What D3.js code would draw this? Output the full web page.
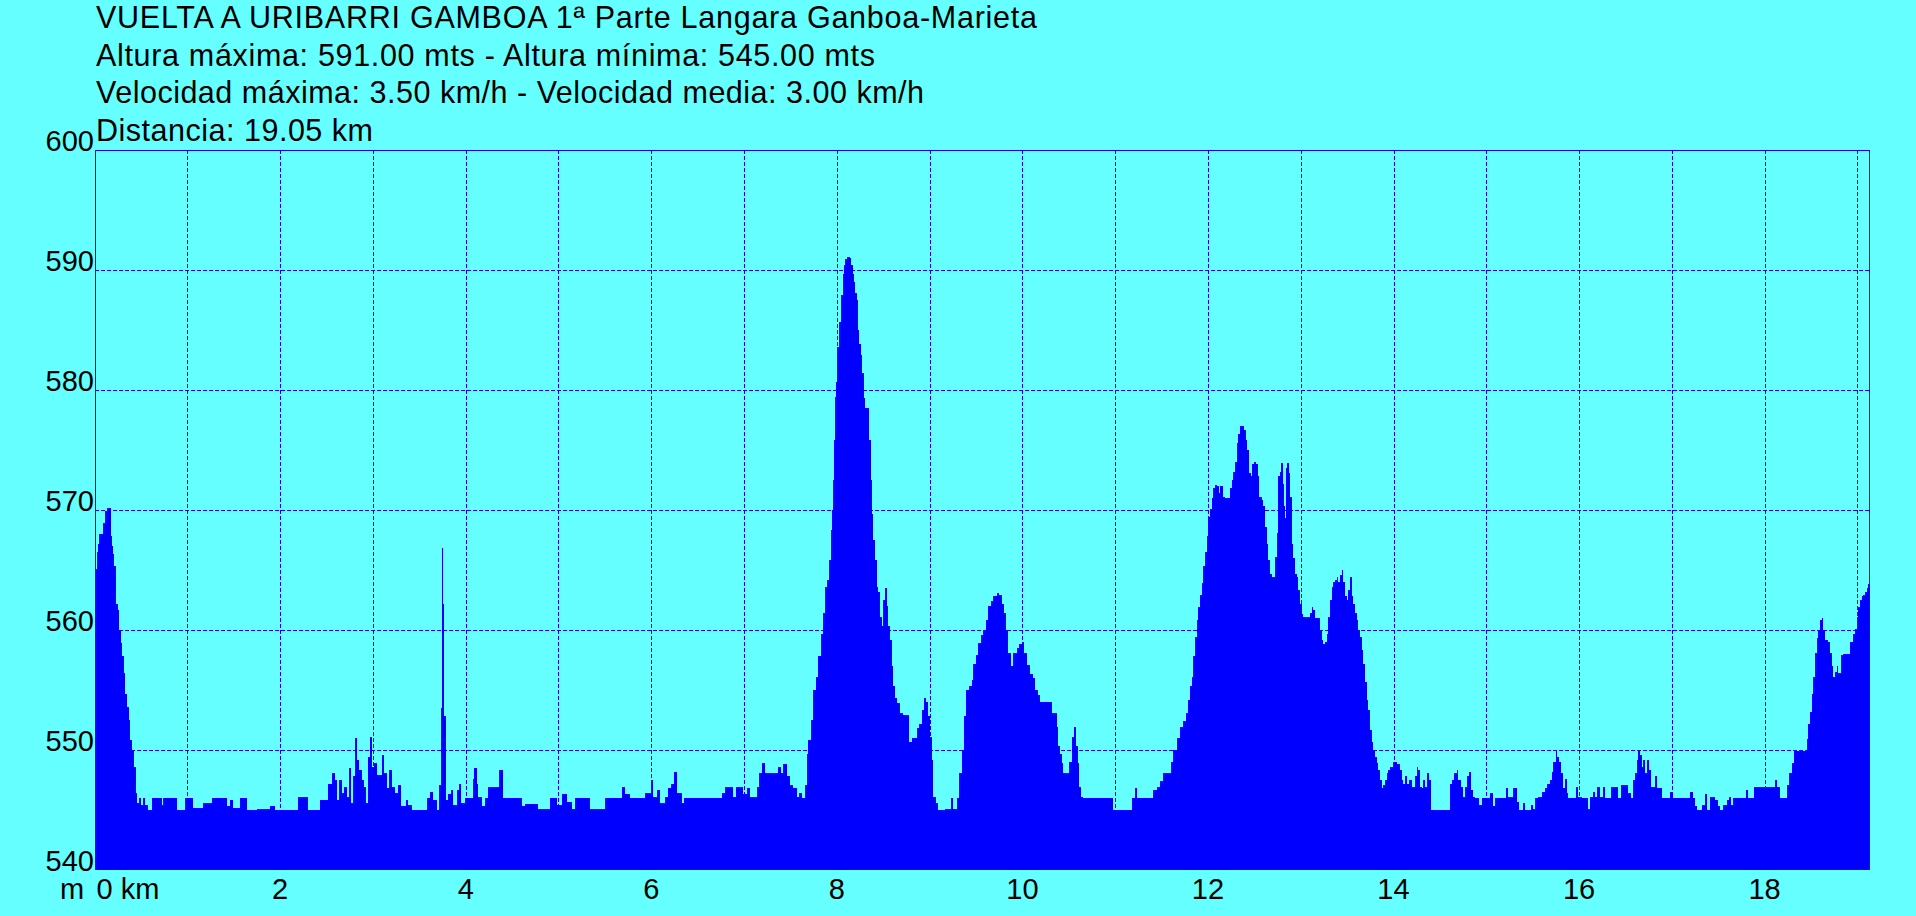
<!DOCTYPE html>
<html>
<head>
<meta charset="utf-8">
<script src="https://cdn.jsdelivr.net/npm/d3@7"></script>
<style>
html, body { margin: 0; padding: 0; background: #66ffff; overflow: hidden; }
svg { display: block; }
</style>
</head>
<body>
<svg id="chart" width="1916" height="916"></svg>
<script>
// ---------------- data ----------------
const titleLines = [
  "VUELTA A URIBARRI GAMBOA 1ª Parte Langara Ganboa-Marieta",
  "Altura máxima: 591.00 mts - Altura mínima: 545.00 mts",
  "Velocidad máxima: 3.50 km/h - Velocidad media: 3.00 km/h",
  "Distancia: 19.05 km"
];
const altitudeTicks = [540, 550, 560, 570, 580, 590, 600];
const distanceGrid = [1, 2, 3, 4, 5, 6, 7, 8, 9, 10, 11, 12, 13, 14, 15, 16, 17, 18, 19];
const distanceLabels = [2, 4, 6, 8, 10, 12, 14, 16, 18];
const firstDistanceLabel = "0 km";
const altitudeUnit = "m";

const distanceKm = [
  0, 0.023, 0.040, 0.051, 0.094, 0.112, 0.130, 0.177, 0.191, 0.202,
  0.212, 0.231, 0.249, 0.263, 0.281, 0.299, 0.314, 0.331, 0.349, 0.368,
  0.385, 0.406, 0.425, 0.443, 0.460, 0.479, 0.500, 0.522, 0.543, 0.576,
  0.622, 0.723, 0.740, 0.888, 0.974, 1.061, 1.168, 1.262, 1.424, 1.459,
  1.492, 1.567, 1.639, 1.747, 1.890, 1.944, 2.192, 2.300, 2.429, 2.519,
  2.555, 2.591, 2.609, 2.637, 2.663, 2.688, 2.717, 2.742, 2.760, 2.782,
  2.810, 2.831, 2.853, 2.879, 2.904, 2.925, 2.943, 2.968, 2.990, 3.011,
  3.040, 3.094, 3.119, 3.148, 3.176, 3.202, 3.238, 3.273, 3.299, 3.356,
  3.381, 3.418, 3.579, 3.615, 3.651, 3.687, 3.715, 3.730, 3.741, 3.748,
  3.758, 3.769, 3.784, 3.812, 3.838, 3.860, 3.903, 3.928, 3.949, 3.992,
  4.075, 4.092, 4.118, 4.136, 4.172, 4.208, 4.240, 4.359, 4.405, 4.603,
  4.639, 4.779, 4.908, 4.981, 5.035, 5.088, 5.142, 5.178, 5.340, 5.501,
  5.681, 5.717, 5.771, 5.932, 5.994, 6.022, 6.059, 6.094, 6.148, 6.183,
  6.213, 6.248, 6.274, 6.328, 6.353, 6.759, 6.795, 6.884, 6.913, 6.985,
  7.029, 7.064, 7.136, 7.164, 7.190, 7.226, 7.369, 7.395, 7.423, 7.460,
  7.495, 7.531, 7.567, 7.596, 7.621, 7.657, 7.675, 7.692, 7.718, 7.746,
  7.776, 7.800, 7.826, 7.848, 7.873, 7.897, 7.919, 7.934, 7.945, 7.955,
  7.970, 7.980, 7.991, 8.005, 8.020, 8.042, 8.063, 8.077, 8.091, 8.113,
  8.142, 8.156, 8.171, 8.185, 8.199, 8.214, 8.228, 8.242, 8.257, 8.271,
  8.293, 8.307, 8.344, 8.365, 8.379, 8.393, 8.411, 8.430, 8.447, 8.465,
  8.484, 8.501, 8.519, 8.537, 8.555, 8.573, 8.592, 8.609, 8.627, 8.652,
  8.681, 8.713, 8.781, 8.807, 8.867, 8.889, 8.915, 8.939, 8.961, 8.986,
  9.004, 9.022, 9.040, 9.069, 9.090, 9.166, 9.227, 9.249, 9.298, 9.320,
  9.346, 9.371, 9.392, 9.428, 9.453, 9.471, 9.497, 9.525, 9.550, 9.579,
  9.607, 9.632, 9.658, 9.686, 9.723, 9.751, 9.777, 9.802, 9.823, 9.848,
  9.874, 9.902, 9.939, 9.967, 9.992, 10.017, 10.046, 10.082, 10.111, 10.136,
  10.172, 10.190, 10.316, 10.370, 10.387, 10.405, 10.424, 10.438, 10.506, 10.531,
  10.556, 10.578, 10.596, 10.613, 10.628, 10.653, 10.980, 11.178, 11.214, 11.235,
  11.408, 11.448, 11.483, 11.519, 11.598, 11.620, 11.663, 11.699, 11.734, 11.763,
  11.788, 11.806, 11.825, 11.842, 11.860, 11.879, 11.896, 11.914, 11.932, 11.950,
  11.968, 11.986, 12.004, 12.022, 12.040, 12.058, 12.076, 12.100, 12.119, 12.133,
  12.159, 12.184, 12.238, 12.256, 12.273, 12.291, 12.310, 12.327, 12.345, 12.388,
  12.407, 12.424, 12.442, 12.461, 12.478, 12.500, 12.518, 12.536, 12.553, 12.580,
  12.597, 12.615, 12.633, 12.650, 12.669, 12.687, 12.723, 12.741, 12.758, 12.776,
  12.790, 12.806, 12.820, 12.830, 12.841, 12.855, 12.870, 12.884, 12.903, 12.920,
  12.938, 12.956, 12.974, 12.992, 13.010, 13.024, 13.100, 13.118, 13.135, 13.153,
  13.207, 13.226, 13.243, 13.261, 13.279, 13.297, 13.315, 13.333, 13.351, 13.369,
  13.387, 13.404, 13.423, 13.441, 13.459, 13.477, 13.495, 13.512, 13.531, 13.549,
  13.566, 13.584, 13.603, 13.620, 13.639, 13.657, 13.674, 13.693, 13.711, 13.728,
  13.746, 13.765, 13.782, 13.800, 13.819, 13.836, 13.854, 13.872, 13.890, 13.908,
  13.926, 13.944, 13.962, 13.998, 14.034, 14.070, 14.088, 14.105, 14.124, 14.142,
  14.170, 14.196, 14.231, 14.250, 14.267, 14.285, 14.304, 14.321, 14.339, 14.364,
  14.385, 14.400, 14.609, 14.633, 14.652, 14.681, 14.698, 14.724, 14.745, 14.770,
  14.789, 14.813, 14.832, 14.853, 14.878, 14.925, 14.950, 15.040, 15.075, 15.094,
  15.212, 15.237, 15.291, 15.328, 15.352, 15.392, 15.417, 15.478, 15.506, 15.525,
  15.560, 15.597, 15.632, 15.657, 15.686, 15.705, 15.722, 15.748, 15.765, 15.787,
  15.805, 15.823, 15.848, 15.866, 15.880, 15.967, 15.991, 16.028, 16.099, 16.118,
  16.147, 16.171, 16.190, 16.225, 16.254, 16.279, 16.341, 16.422, 16.448, 16.530,
  16.556, 16.584, 16.602, 16.621, 16.638, 16.657, 16.675, 16.692, 16.710, 16.729,
  16.753, 16.772, 16.818, 16.836, 16.890, 16.980, 17.009, 17.195, 17.224, 17.249,
  17.274, 17.321, 17.357, 17.382, 17.411, 17.465, 17.500, 17.519, 17.554, 17.591,
  17.612, 17.634, 17.662, 17.799, 17.824, 17.888, 18.111, 18.130, 18.165, 18.237,
  18.266, 18.291, 18.316, 18.453, 18.470, 18.489, 18.507, 18.525, 18.543, 18.561,
  18.579, 18.597, 18.615, 18.632, 18.650, 18.679, 18.704, 18.722, 18.740, 18.758,
  18.776, 18.794, 18.819, 18.848, 18.920, 18.949, 18.974, 18.992, 19.009, 19.027,
  19.046, 19.063, 19.082, 19.100, 19.117, 19.125
];
const altitudeM = [
  565.1, 566.5, 567.2, 568, 568.9, 569.9, 570.2, 567.8, 567, 566.3,
  565.3, 562.2, 561.7, 560, 558.9, 557.8, 556.4, 554.7, 553.6, 552.5,
  550.8, 550, 548.6, 546.4, 545.6, 546, 545.4, 546, 545.4, 545,
  546, 545.4, 546, 545, 546, 545.2, 545.6, 546, 545.3, 545.8,
  545.2, 546, 545, 545.1, 545.3, 545, 546.1, 545, 545.8, 547.2,
  548.1, 547.5, 545.8, 547.5, 546.4, 546.9, 546.1, 548.5, 545.6, 547.8,
  551, 549.2, 548.3, 547.5, 546.9, 545.6, 549.4, 551.1, 548.6, 548.9,
  547.9, 549.6, 548.1, 546.8, 548.3, 546.9, 546.4, 547.1, 545.3, 545.8,
  545.4, 545, 546, 546.5, 545.8, 545, 547.1, 553.5, 562.4, 566.8,
  562.2, 552.8, 545.8, 546.3, 546.7, 545.4, 546.7, 547.2, 545.6, 546,
  547.6, 548.5, 547.2, 546.1, 545.3, 546, 546.9, 548.3, 546, 545.3,
  545.5, 545.1, 546, 545.4, 546.3, 545.7, 545.1, 546, 545.1, 546,
  546.9, 546.3, 546, 546.4, 547.5, 546.1, 546.7, 545.6, 546.1, 546.8,
  547.2, 548.2, 546.4, 545.6, 546, 546.4, 546.9, 546.1, 546.9, 546.3,
  546.8, 546.1, 546.9, 548.1, 548.9, 548.1, 548.6, 548.1, 548.8, 547.8,
  547.1, 546.8, 546.1, 546.4, 546, 547.1, 549.7, 550.8, 552.5, 555,
  556.1, 557.8, 559.7, 561.4, 563.6, 564.2, 565.8, 568.3, 570, 572.5,
  575.8, 579.4, 580.7, 583.6, 585.7, 587.9, 589.7, 590.4, 590.9, 591.1,
  591, 590.4, 589.7, 589, 588.1, 587.5, 585, 583.8, 582.9, 581.4,
  579.3, 578.5, 575.8, 572.5, 569.7, 567.5, 565.8, 563.6, 563.2, 561.1,
  560.3, 562.5, 563.5, 562, 560.3, 559.2, 557, 555.3, 554.3, 553.9,
  553.1, 552.9, 550.7, 551, 551.8, 552.2, 553.3, 554.3, 554, 552.8,
  551.1, 549.2, 546.1, 545.6, 545, 545.1, 546, 545.1, 546, 548.1,
  550, 552.8, 555, 555.3, 555.8, 557.2, 557.9, 558.9, 559.6, 560,
  560.8, 562, 562.4, 562.8, 563.1, 562.9, 562.2, 561.4, 560, 558.1,
  557, 558.1, 558.5, 558.8, 559, 558.1, 557.1, 556.3, 556, 555,
  554.6, 554, 553.1, 551.9, 550.3, 549.7, 548.9, 548.1, 549, 551.1,
  551.9, 550.3, 548.9, 546.9, 546.1, 546, 545, 546, 546.8, 546,
  546.7, 546.9, 547.4, 548.1, 549, 550, 551, 551.9, 552.4, 553.1,
  554.2, 555.3, 556.1, 557.8, 559.4, 560.8, 561.9, 562.9, 563.9, 565.3,
  566.5, 567.8, 569.4, 570.1, 571, 571.8, 572.1, 572, 571.4, 572,
  571.1, 571, 571.8, 572.5, 573.2, 574, 575.6, 576.3, 577, 576.7,
  575.8, 575, 573.1, 572.8, 573.8, 574, 573.8, 572.8, 571.1, 570.8,
  570.3, 568.6, 567.2, 565.8, 564.7, 564.4, 566.1, 568.1, 572.8, 573.2,
  573.9, 572.2, 570.3, 569.3, 573.5, 573.9, 573.1, 571.1, 567.2, 566,
  564.7, 564.4, 563.3, 562.2, 561.3, 561.1, 561.4, 561.9, 561.7, 561,
  560, 559.2, 558.8, 559, 559.7, 561.1, 562.5, 563.6, 564, 564.2,
  564.4, 564, 564.6, 565, 564, 562.8, 562.5, 563.3, 564.4, 562.8,
  562.2, 561.4, 560.8, 560, 559.4, 558.3, 557.2, 555.7, 554.2, 553.3,
  551.7, 550.7, 549.9, 549.4, 548.9, 548.3, 547.5, 546.8, 547.1, 547.5,
  548.1, 548.3, 548.6, 549, 548.8, 548.3, 547.5, 547.2, 547.8, 547.2,
  547.5, 546.9, 547.8, 548.6, 548.3, 546.9, 546.8, 547.5, 546.9, 548.1,
  547.5, 545, 547.2, 547.5, 548.1, 548.3, 547.5, 546.9, 546.1, 546.9,
  547.8, 548.2, 546.7, 546.1, 546, 545.4, 546, 546.4, 545.3, 546,
  546.8, 546.1, 546.8, 545.7, 545, 545.6, 545, 545.4, 545.1, 546,
  546.1, 546.5, 546.8, 547.2, 547.5, 548.2, 549, 549.9, 549.4, 549,
  548.1, 546.8, 547.6, 546.4, 546, 546.9, 546.1, 546, 545.1, 546.1,
  546.5, 546.1, 546.9, 546.1, 546.9, 546, 546.9, 546, 547.1, 546.4,
  546, 547.5, 548.1, 549.2, 549.9, 549.6, 548.6, 549.2, 548.1, 549.2,
  548.3, 546.9, 547.8, 546.8, 546, 546.5, 546, 546.5, 546, 545.3,
  545, 545.4, 546.3, 545, 546.1, 545.8, 545.3, 545, 545.4, 545.8,
  546.1, 545.4, 546, 546.7, 546, 546.9, 547.5, 546.9, 546, 547.1,
  548.1, 548.9, 549.9, 550.9, 552.2, 553.2, 554.7, 556.1, 558.1, 559.3,
  560, 560.8, 561, 560, 559.2, 559, 558.1, 557, 556.1, 556.5,
  557, 556.4, 557.9, 558, 559, 559.7, 560.1, 561.1, 561.9, 562.5,
  562.8, 562.9, 563.2, 563.5, 563.8, 563.8
];

// ---------------- layout ----------------
const W = 1916, H = 916;
const plot = { left: 94.6, right: 1869, top: 150, bottom: 870 };
const titleX = 96;
const titleBaselines = [28, 65.5, 103, 140.5];
const titleWidths = [941, 779, 828, 277];
const FONT = "'Liberation Sans', Arial, Helvetica, sans-serif";
const BLUE = "#0000ff";

const svg = d3.select("#chart");
svg.append("rect").attr("width", W).attr("height", H).attr("fill", "#66ffff");

const x = d3.scaleLinear().domain([0, 19.125]).range([plot.left, plot.right]);
const y = d3.scaleLinear().domain([540, 600]).range([plot.bottom, plot.top]);

const profile = distanceKm.map((d, i) => ({ km: d, alt: altitudeM[i] }));

// grid
const grid = svg.append("g").attr("shape-rendering", "crispEdges");
grid.selectAll("line.h")
  .data(altitudeTicks.filter(v => v > 540 && v < 600))
  .join("line")
  .attr("x1", plot.left).attr("x2", plot.right)
  .attr("y1", d => Math.round(y(d)) + 0.5).attr("y2", d => Math.round(y(d)) + 0.5)
  .attr("stroke", BLUE).attr("stroke-width", 1).attr("stroke-dasharray", "4,2");
grid.selectAll("line.v")
  .data(distanceGrid)
  .join("line")
  .attr("x1", d => Math.round(x(d)) + 0.5).attr("x2", d => Math.round(x(d)) + 0.5)
  .attr("y1", plot.top).attr("y2", plot.bottom)
  .attr("stroke", BLUE).attr("stroke-width", 1).attr("stroke-dasharray", "4,2");

// profile area
const area = d3.area()
  .x(d => x(d.km))
  .y0(y(540))
  .y1(d => y(d.alt))
  .curve(d3.curveStepAfter);
svg.append("path")
  .datum(profile)
  .attr("d", area)
  .attr("fill", BLUE)
  .attr("shape-rendering", "crispEdges");

// frame
const frame = svg.append("g").attr("stroke", BLUE).attr("stroke-width", 1).attr("shape-rendering", "crispEdges");
frame.append("line").attr("x1", 95).attr("x2", 1870).attr("y1", 150.5).attr("y2", 150.5);
frame.append("line").attr("x1", 95.5).attr("x2", 95.5).attr("y1", 150).attr("y2", 870);
frame.append("line").attr("x1", 1869.5).attr("x2", 1869.5).attr("y1", 150).attr("y2", 870);

// y-axis labels
svg.append("g").selectAll("text")
  .data(altitudeTicks)
  .join("text")
  .attr("x", 94).attr("y", d => y(d) + 1)
  .attr("text-anchor", "end")
  .attr("font-family", FONT).attr("font-size", 29).attr("fill", "#000")
  .text(d => d);

// x-axis labels
const xl = svg.append("g").attr("font-family", FONT).attr("font-size", 29).attr("fill", "#000");
xl.append("text").attr("x", 60).attr("y", 899).text(altitudeUnit);
xl.append("text").attr("x", x(0) + 2).attr("y", 899).text(firstDistanceLabel);
xl.selectAll("text.tick")
  .data(distanceLabels)
  .join("text")
  .attr("class", "tick")
  .attr("x", d => x(d)).attr("y", 899)
  .attr("text-anchor", "middle")
  .text(d => d);

// title lines
svg.append("g").selectAll("text")
  .data(titleLines)
  .join("text")
  .attr("x", titleX)
  .attr("y", (d, i) => titleBaselines[i])
  .attr("textLength", (d, i) => titleWidths[i])
  .attr("lengthAdjust", "spacing")
  .attr("font-family", FONT).attr("font-size", 30.5).attr("fill", "#000")
  .text(d => d);
</script>
</body>
</html>
